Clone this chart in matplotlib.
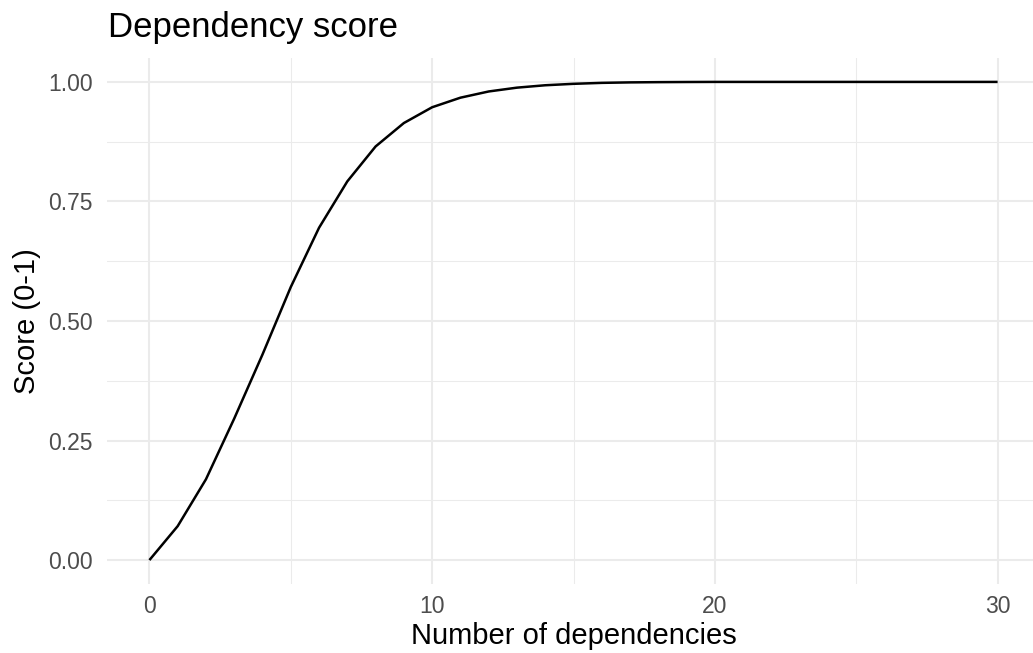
import matplotlib
matplotlib.use("Agg")
import matplotlib.pyplot as plt
from matplotlib.ticker import FixedLocator

plt.rcParams['font.family'] = ['Liberation Sans', 'DejaVu Sans']

n_deps = list(range(0, 31))
score = [0.000, 0.071, 0.169, 0.296, 0.430, 0.571, 0.695, 0.792, 0.865, 0.914,
         0.947, 0.967, 0.980, 0.988, 0.993, 0.996, 0.998, 0.999, 0.9995, 0.9998,
         1.0, 1.0, 1.0, 1.0, 1.0, 1.0, 1.0, 1.0, 1.0, 1.0, 1.0]
x_ticks = [0, 10, 20, 30]
y_ticks = [0.00, 0.25, 0.50, 0.75, 1.00]
y_tick_labels = ["0.00", "0.25", "0.50", "0.75", "1.00"]

W, H = 1033, 653
fig = plt.figure(figsize=(W / 100, H / 100), dpi=100)
left, right = 107, 1040
top, bottom = 58, 584
ax = fig.add_axes([left / W, (H - bottom) / H, (right - left) / W, (bottom - top) / H])

ax.plot(n_deps, score, color='black', linewidth=1.8, solid_capstyle='butt')
ax.set_xlim(-1.5, 31.5)
ax.set_ylim(-0.05, 1.05)

ax.xaxis.set_major_locator(FixedLocator(x_ticks))
ax.xaxis.set_minor_locator(FixedLocator([5, 15, 25]))
ax.yaxis.set_major_locator(FixedLocator(y_ticks))
ax.yaxis.set_minor_locator(FixedLocator([0.125, 0.375, 0.625, 0.875]))
ax.set_yticklabels(y_tick_labels)

ax.grid(which='major', color='#EBEBEB', linewidth=1.5)
ax.grid(which='minor', color='#EBEBEB', linewidth=0.75)
ax.set_axisbelow(True)
for s in ax.spines.values():
    s.set_visible(False)
ax.tick_params(which='both', length=0)
ax.tick_params(axis='x', labelsize=16.5, labelcolor='#4D4D4D', pad=8)
ax.tick_params(axis='y', labelsize=16.5, labelcolor='#4D4D4D', pad=10)

fig.text(108 / W, 1 - 28 / H, "Dependency score", fontsize=25, color='black',
         ha='left', va='center')
fig.text((left + 1040) / 2 / W, 1 - 636 / H, "Number of dependencies", fontsize=21,
         color='black', ha='center', va='center')
fig.text(27 / W, 1 - ((top + bottom) / 2) / H, "Score (0-1)", fontsize=21,
         color='black', ha='center', va='center', rotation=90)

fig.savefig("out.png", dpi=100)
